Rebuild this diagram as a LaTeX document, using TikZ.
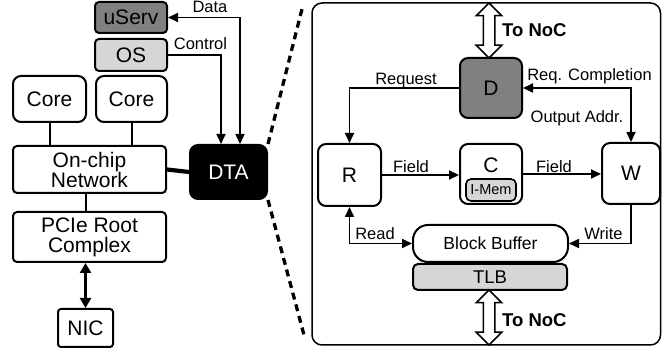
\documentclass[tikz,border=0pt]{standalone}
\usepackage{fontspec}
\setmainfont{Liberation Sans}
\usetikzlibrary{arrows.meta,shapes.arrows}

\definecolor{boxdark}{gray}{0.5}
\definecolor{boxlight}{gray}{0.84}

\begin{document}
\begin{tikzpicture}[x=1pt, y=-1pt,
  every node/.style={font=\fontsize{21}{20}\selectfont, inner sep=0pt},
  blk/.style={draw, line width=2pt, rounded corners=4pt, align=center},
  unit/.style={blk, rounded corners=8pt},
  lbl/.style={font=\fontsize{16.5}{17}\selectfont, anchor=base},
  arr/.style={line width=1.7pt, -{Triangle[length=10pt,width=9pt]}},
  biarr/.style={line width=1.7pt, {Triangle[length=10pt,width=9pt]}-{Triangle[length=10pt,width=9pt]}},
  nocarrow/.style={double arrow, draw, fill=white, line width=1.5pt, inner sep=5pt,
    minimum height=55pt, double arrow head extend=7pt,
    double arrow tip angle=90, shape border rotate=90},
  noclbl/.style={font=\bfseries\fontsize{18.5}{20}\selectfont, anchor=base west}]
  \useasboundingbox (0,0) rectangle (662,352);

  % host side
  \node[blk, fill=boxdark, minimum width=72pt, minimum height=31pt] (userv) at (131,17.5) {uServ};
  \node[blk, fill=boxlight, minimum width=72pt, minimum height=32pt] (os) at (131,55) {OS};
  \node[unit, minimum width=73pt, minimum height=46pt] (core1) at (49.5,99) {Core};
  \node[unit, minimum width=71pt, minimum height=46pt] (core2) at (131.5,99) {Core};
  \node[blk, minimum width=153pt, minimum height=47pt] (noc) at (89.5,169.5) {On-chip\\Network};
  \node[unit, fill=black, text=white, minimum width=77pt, minimum height=54pt] (dta) at (228.5,172) {DTA};
  \node[blk, minimum width=153pt, minimum height=50pt] (pcie) at (89.5,237) {PCIe Root\\Complex};
  \node[blk, rounded corners=3pt, minimum width=55pt, minimum height=38pt] (nic) at (85.5,328) {NIC};

  \draw[biarr] (userv.east) -| ([xshift=11.5pt]dta.north);
  \draw[arr] (os.east) -| ([xshift=-7.5pt]dta.north);
  \node[lbl] (ldata) at (210,13) {Data};
  \node[lbl] (lctrl) at (200.5,50) {Control};
  \draw[line width=2pt] (core1.south) -- (core1.south |- noc.north);
  \draw[line width=2pt] (core2.south) -- (core2.south |- noc.north);
  \draw[line width=4.2pt] (noc.east) -- (dta.west);
  \draw[line width=2pt] (nic.north |- noc.south) -- (nic.north |- pcie.north);
  \draw[line width=2.3pt, {Triangle[length=10pt,width=11pt]}-{Triangle[length=10pt,width=11pt]}]
    (nic.north |- pcie.south) -- (nic.north);

  % zoom lines
  \coordinate (zt) at (303,5);
  \coordinate (zb) at (304,335);
  \draw[line width=3.3pt, dash pattern=on 7pt off 5pt] (dta.north east) -- (zt);
  \draw[line width=3.3pt, dash pattern=on 7pt off 5pt] (dta.south east) -- (zb);

  % DTA internals
  \node[draw, line width=1.5pt, rounded corners=10pt, minimum width=348.5pt, minimum height=342pt] (frame) at (486.25,174) {};
  \node[unit, fill=boxdark, minimum width=62pt, minimum height=60pt] (dnode) at (491,88) {D};
  \node[unit, minimum width=63pt, minimum height=62pt] (rnode) at (349.5,175) {R};
  \node[unit, minimum width=62pt, minimum height=60pt] (cnode) at (491,174) {};
  \node (clbl) at (491,165) {C};
  \node[blk, line width=1.6pt, fill=boxlight, rounded corners=5pt, minimum width=50pt, minimum height=22pt,
    font=\fontsize{14.5}{16}\selectfont] (imem) at (491,190) {I-Mem};
  \node[unit, minimum width=58pt, minimum height=61pt] (wnode) at (631,173.5) {W};
  \node[blk, rounded corners=15pt, minimum width=155pt, minimum height=37pt,
    font=\fontsize{17.5}{18}\selectfont] (buf) at (490.5,243.5) {Block Buffer};
  \node[blk, fill=boxlight, rounded corners=5pt, minimum width=154pt, minimum height=26pt,
    font=\fontsize{18.5}{18}\selectfont] (tlb) at (490,277) {TLB};

  \node[nocarrow] (atop) at (489,30.5) {};
  \node[nocarrow] (abot) at (489,317.5) {};
  \node[noclbl] (ntop) at (502,37) {To NoC};
  \node[noclbl] (nbot) at (502,327) {To NoC};

  \draw[arr] (dnode.west) -| (rnode.north);
  \draw[biarr] (dnode.east) -| (wnode.north);
  \draw[arr] (rnode.east) -- (rnode.east -| cnode.west);
  \draw[arr] (cnode.east) -- (cnode.east -| wnode.west);
  \draw[biarr] (buf.west) -| (rnode.south);
  \draw[arr] (wnode.south) |- (buf.east);
  \node[lbl] (lreq) at (406,85) {Request};
  \node[lbl] (lcompl) at (589.5,81) {Req. Completion};
  \node[lbl] (laddr) at (577,123) {Output Addr.};
  \node[lbl] (lfield1) at (411,173) {Field};
  \node[lbl] (lfield2) at (554,173) {Field};
  \node[lbl] (lread) at (375,240) {Read};
  \node[lbl] (lwrite) at (603.5,240) {Write};
\end{tikzpicture}
\end{document}
